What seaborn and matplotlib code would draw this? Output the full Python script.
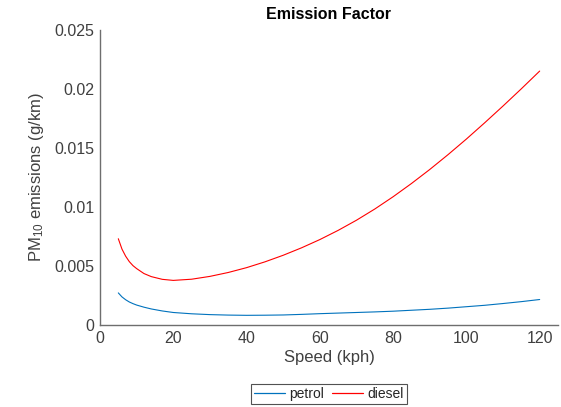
import numpy as np
import pandas as pd
import matplotlib
matplotlib.use("Agg")
import matplotlib.pyplot as plt
import seaborn as sns
from matplotlib.ticker import FuncFormatter
from matplotlib.lines import Line2D

speed = [5, 6, 7, 8, 9, 10, 12, 14, 17, 20, 25, 30, 35, 40, 45, 50, 55, 60,
         65, 70, 75, 80, 85, 90, 95, 100, 105, 110, 115, 120]
petrol = [2.72, 2.38, 2.14, 1.95, 1.81, 1.69, 1.51, 1.36, 1.19, 1.06, 0.95, 0.88,
          0.84, 0.82, 0.83, 0.85, 0.90, 0.96, 1.01, 1.06, 1.11, 1.17, 1.25, 1.33,
          1.43, 1.55, 1.67, 1.82, 1.98, 2.16]
diesel = [7.31, 6.43, 5.83, 5.37, 5.03, 4.78, 4.36, 4.10, 3.87, 3.78, 3.88, 4.12,
          4.45, 4.86, 5.35, 5.91, 6.54, 7.24, 8.02, 8.88, 9.83, 10.87, 11.99,
          13.18, 14.44, 15.76, 17.14, 18.56, 20.02, 21.52]
series_names = ["petrol", "diesel"]
colors = ["#0072BD", "#FF0000"]

df = pd.DataFrame({
    "speed": speed * 2,
    "pm": [v / 1000 for v in petrol] + [v / 1000 for v in diesel],
    "fuel": ["petrol"] * len(speed) + ["diesel"] * len(speed),
})

sns.set_style("white")
plt.rcParams["font.family"] = ["Liberation Sans", "DejaVu Sans"]
plt.rcParams["mathtext.fontset"] = "custom"
plt.rcParams["mathtext.rm"] = "Liberation Sans"
plt.rcParams["mathtext.it"] = "Liberation Sans:italic"

fig = plt.figure(figsize=(5.61, 4.07), dpi=100)
ax = fig.add_axes([100 / 561, 1 - 325 / 407, 458 / 561, 295 / 407])

sns.lineplot(data=df, x="speed", y="pm", hue="fuel", hue_order=series_names,
             palette=colors, linewidth=0.8, ax=ax, legend=False)

ax.set_xlim(0, 125)
ax.set_ylim(0, 0.025)
ax.set_xticks([0, 20, 40, 60, 80, 100, 120])
ax.set_yticks([0, 0.005, 0.01, 0.015, 0.02, 0.025])
ax.yaxis.set_major_formatter(FuncFormatter(lambda v, p: f"{v:g}"))

tc = "#404040"
for s in ["top", "right"]:
    ax.spines[s].set_visible(False)
for s in ["left", "bottom"]:
    ax.spines[s].set_color("#6e6e6e")
    ax.spines[s].set_linewidth(1.0)
ax.tick_params(direction="in", length=5, width=0.8, color="#6e6e6e",
               labelsize=11.5, labelcolor=tc, pad=4)

ax.set_xlabel("Speed (kph)", fontsize=12, color=tc, labelpad=3)
ax.set_ylabel("PM$_{10}$ emissions (g/km)", fontsize=12, color=tc, labelpad=6)
ax.set_title("Emission Factor", fontsize=11.5, fontweight="bold", color="black", pad=8)

handles = [Line2D([], [], color=c, lw=0.9) for c in colors]
leg = fig.legend(handles, series_names, loc="center", ncol=2,
                 bbox_to_anchor=(329 / 561, 1 - 394 / 407), frameon=True,
                 fancybox=False, edgecolor="#262626", fontsize=10,
                 handlelength=2.2, handletextpad=0.3, columnspacing=0.6,
                 borderpad=0.25, borderaxespad=0)
leg.get_frame().set_linewidth(0.8)

fig.savefig("out.png", dpi=100)
